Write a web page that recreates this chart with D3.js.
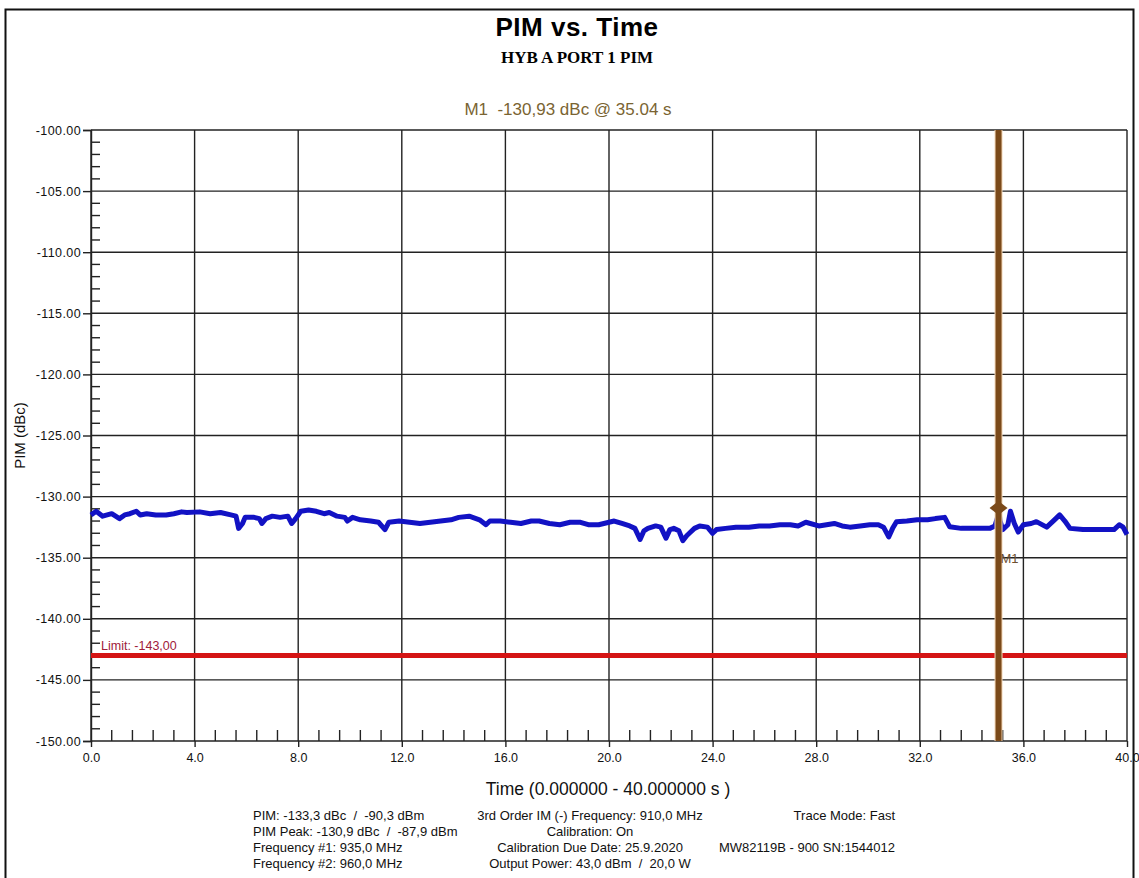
<!DOCTYPE html>
<html lang="en">
<head>
<meta charset="UTF-8">
<title>PIM vs. Time</title>
<style>
  body { margin: 0; background: #fff; }
  text { font-family: "Liberation Sans", Arial, sans-serif; white-space: pre; }
</style>
</head>
<body>
<svg id="chart"></svg>
<script src="https://d3js.org/d3.v7.min.js"></script>
<script>
// trace samples (time in s, PIM in dBc)
var timeS = [0.0, 0.2, 0.45, 0.8, 1.1, 1.3, 1.5, 1.75, 1.9, 2.15, 2.5, 2.9, 3.2, 3.5, 3.7, 4.2, 4.6, 5.0, 5.4, 5.6,
  5.7, 5.85, 5.95, 6.3, 6.5, 6.6, 6.75, 7.0, 7.3, 7.6, 7.75, 7.9, 8.1, 8.4, 8.7, 9.0, 9.2, 9.5, 9.8, 9.9,
  10.1, 10.4, 10.8, 11.1, 11.35, 11.5, 11.9, 12.3, 12.7, 13.1, 13.5, 13.9, 14.2, 14.6, 15.0, 15.25, 15.4, 15.8, 16.2, 16.6,
  17.0, 17.3, 17.7, 18.1, 18.5, 18.9, 19.2, 19.6, 20.0, 20.2, 20.5, 20.8, 21.0, 21.2, 21.35, 21.5, 21.8, 22.0, 22.2, 22.35,
  22.5, 22.7, 22.85, 23.0, 23.1, 23.3, 23.5, 23.8, 24.0, 24.15, 24.5, 24.9, 25.4, 25.8, 26.2, 26.6, 27.0, 27.3, 27.6, 28.1,
  28.4, 28.7, 29.0, 29.3, 29.7, 30.07, 30.4, 30.6, 30.8, 30.95, 31.1, 31.5, 31.9, 32.3, 32.6, 32.96, 33.15, 33.6, 34.2, 34.7,
  34.9, 35.0, 35.04, 35.1, 35.2, 35.4, 35.5, 35.65, 35.8, 36.0, 36.3, 36.5, 36.9, 37.2, 37.4, 37.6, 37.8, 38.3, 38.9, 39.5,
  39.7, 39.85, 40.0];
var pimDbc = [-131.5, -131.2, -131.6, -131.4, -131.8, -131.5, -131.4, -131.2, -131.5, -131.4, -131.5, -131.5, -131.4, -131.25, -131.3, -131.25, -131.4, -131.3, -131.5, -131.6,
  -132.6, -132.2, -131.7, -131.7, -131.8, -132.2, -131.8, -131.6, -131.7, -131.6, -132.2, -131.8, -131.2, -131.1, -131.2, -131.4, -131.3, -131.6, -131.7, -132.0,
  -131.7, -131.9, -132.0, -132.1, -132.7, -132.1, -132.0, -132.1, -132.2, -132.1, -132.0, -131.9, -131.7, -131.6, -131.9, -132.3, -132.0, -132.0, -132.1, -132.2,
  -132.0, -132.0, -132.2, -132.3, -132.1, -132.1, -132.3, -132.3, -132.1, -132.0, -132.2, -132.4, -132.6, -133.5, -132.8, -132.6, -132.4, -132.5, -133.4, -132.7,
  -132.6, -132.8, -133.6, -133.2, -133.0, -132.6, -132.4, -132.5, -133.0, -132.7, -132.6, -132.5, -132.5, -132.4, -132.4, -132.3, -132.3, -132.4, -132.1, -132.4,
  -132.3, -132.2, -132.4, -132.5, -132.4, -132.3, -132.3, -132.5, -133.3, -132.6, -132.05, -132.0, -131.9, -131.9, -131.8, -131.7, -132.46, -132.6, -132.6, -132.6,
  -132.4, -131.7, -130.93, -132.0, -132.7, -132.3, -131.2, -132.2, -132.9, -132.3, -132.2, -132.05, -132.5, -131.9, -131.5, -132.0, -132.6, -132.7, -132.7, -132.7,
  -132.3, -132.5, -133.1];

var limitDbc = -143.0;
var markerTime = 35.04, markerDbc = -130.93;
var yTickValues = [-100, -105, -110, -115, -120, -125, -130, -135, -140, -145, -150];
var xTickValues = [0, 4, 8, 12, 16, 20, 24, 28, 32, 36, 40];

var footerLeft = ["PIM: -133,3 dBc  /  -90,3 dBm", "PIM Peak: -130,9 dBc  /  -87,9 dBm",
  "Frequency #1: 935,0 MHz", "Frequency #2: 960,0 MHz"];
var footerMid = ["3rd Order IM (-) Frequency: 910,0 MHz", "Calibration: On",
  "Calibration Due Date: 25.9.2020", "Output Power: 43,0 dBm  /  20,0 W"];
var footerRight = ["Trace Mode: Fast", "", "MW82119B - 900 SN:1544012", ""];

var W = 1139, H = 878;
var margin = {top: 130, right: 12, bottom: 137, left: 91};
var svg = d3.select("#chart").attr("width", W).attr("height", H);

svg.append("rect").attr("width", W).attr("height", H).attr("fill", "#fff");
// outer frame
svg.append("rect").attr("x", 5.5).attr("y", 9.5).attr("width", 1128).attr("height", H + 20)
  .attr("fill", "none").attr("stroke", "#111").attr("stroke-width", 2);

var x = d3.scaleLinear().domain([0, 40]).range([margin.left, W - margin.right]);
var y = d3.scaleLinear().domain([-150, -100]).range([H - margin.bottom, margin.top]);

// titles
svg.append("text").attr("x", 577).attr("y", 36).attr("text-anchor", "middle")
  .style("font-size", "26px").style("font-weight", "bold").style("letter-spacing", "0.5px").text("PIM vs. Time");
svg.append("text").attr("x", 577).attr("y", 63).attr("text-anchor", "middle")
  .style("font-family", "'Liberation Serif', 'Times New Roman', serif")
  .style("font-size", "17px").style("font-weight", "bold").text("HYB A PORT 1 PIM");
svg.append("text").attr("x", 568).attr("y", 115).attr("text-anchor", "middle")
  .style("font-size", "17px").attr("fill", "#7a6432")
  .text("M1  -130,93 dBc @ 35.04 s");

// grid
var grid = svg.append("g").attr("stroke", "#222").attr("stroke-width", 1.4);
grid.selectAll("line.h").data(yTickValues).enter().append("line")
  .attr("x1", x(0)).attr("x2", x(40)).attr("y1", d => y(d)).attr("y2", d => y(d));
grid.selectAll("line.v").data(xTickValues).enter().append("line")
  .attr("x1", d => x(d)).attr("x2", d => x(d)).attr("y1", y(-100)).attr("y2", y(-150));

// y axis: major ticks outside, minor ticks inside
var yAxis = svg.append("g").attr("transform", `translate(${x(0)},0)`)
  .call(d3.axisLeft(y).tickValues(yTickValues).tickSize(8).tickPadding(2)
    .tickFormat(d => d.toFixed(2)));
yAxis.select(".domain").attr("stroke", "#222").attr("stroke-width", 1.4);
yAxis.selectAll(".tick line").attr("stroke", "#222").attr("stroke-width", 1.4);
yAxis.selectAll("text").style("font-size", "12.5px").style("letter-spacing", "0.4px").attr("fill", "#111");
var yMinor = d3.range(-150, -100, 1).filter(d => d % 5 !== 0);
svg.append("g").selectAll("line").data(yMinor).enter().append("line")
  .attr("x1", x(0)).attr("x2", x(0) + 9).attr("y1", d => y(d)).attr("y2", d => y(d))
  .attr("stroke", "#222").attr("stroke-width", 1.4);

// x axis
var xAxis = svg.append("g").attr("transform", `translate(0,${y(-150)})`)
  .call(d3.axisBottom(x).tickValues(xTickValues).tickSize(6).tickPadding(6)
    .tickFormat(d => d.toFixed(1)));
xAxis.select(".domain").remove();
xAxis.selectAll(".tick line").attr("stroke", "#222").attr("stroke-width", 1.4);
xAxis.selectAll("text").style("font-size", "12.5px").attr("fill", "#111");
var xMinor = d3.range(0, 40, 0.8).filter(d => Math.abs(d / 4 - Math.round(d / 4)) > 0.01);
svg.append("g").selectAll("line").data(xMinor).enter().append("line")
  .attr("x1", d => x(d)).attr("x2", d => x(d)).attr("y1", y(-150)).attr("y2", y(-150) - 11)
  .attr("stroke", "#222").attr("stroke-width", 1.4);

// axis titles
svg.append("text").attr("transform", `translate(25,${y(-125)}) rotate(-90)`)
  .attr("text-anchor", "middle").style("font-size", "15px").attr("fill", "#111").text("PIM (dBc)");
svg.append("text").attr("x", 608).attr("y", 795).attr("text-anchor", "middle")
  .style("font-size", "17.5px").attr("fill", "#111").text("Time (0.000000 - 40.000000 s )");

// limit line
svg.append("line").attr("x1", x(0)).attr("x2", x(40)).attr("y1", y(limitDbc)).attr("y2", y(limitDbc))
  .attr("stroke", "#d41414").attr("stroke-width", 5);
svg.append("text").attr("x", x(0) + 10).attr("y", y(limitDbc) - 5)
  .style("font-size", "12.5px").attr("fill", "#a0203a").text("Limit: -143,00");

// trace
var traceData = timeS.map((t, i) => [t, pimDbc[i]]);
svg.append("path").datum(traceData)
  .attr("fill", "none").attr("stroke", "#1212c4").attr("stroke-width", 5)
  .attr("stroke-linejoin", "round")
  .attr("d", d3.line().x(d => x(d[0])).y(d => y(d[1])));

// marker M1
var mx = x(markerTime);
svg.append("line").attr("x1", mx).attr("x2", mx).attr("y1", y(-100)).attr("y2", y(-150))
  .attr("stroke", "#f4d8b8").attr("stroke-width", 8);
svg.append("line").attr("x1", mx).attr("x2", mx).attr("y1", y(-100)).attr("y2", y(-150))
  .attr("stroke", "#7b4a1a").attr("stroke-width", 6);
svg.append("path").attr("transform", `translate(${mx},${y(markerDbc)})`)
  .attr("d", "M0,-7L9,0L0,7L-9,0Z").attr("fill", "#7b4a1a");
svg.append("text").attr("x", mx + 2).attr("y", y(-135.4))
  .style("font-size", "13px").attr("fill", "#6e5030").text("M1");

// footer info
var rowsY = [820, 836, 852, 868];
svg.append("g").selectAll("text").data(footerLeft).enter().append("text")
  .attr("x", 253).attr("y", (d, i) => rowsY[i]).style("font-size", "13px").attr("fill", "#111").text(d => d);
svg.append("g").selectAll("text").data(footerMid).enter().append("text")
  .attr("x", 590).attr("y", (d, i) => rowsY[i]).attr("text-anchor", "middle")
  .style("font-size", "13px").attr("fill", "#111").text(d => d);
svg.append("g").selectAll("text").data(footerRight).enter().append("text")
  .attr("x", 895).attr("y", (d, i) => rowsY[i]).attr("text-anchor", "end")
  .style("font-size", "13px").attr("fill", "#111").text(d => d);
</script>
</body>
</html>
